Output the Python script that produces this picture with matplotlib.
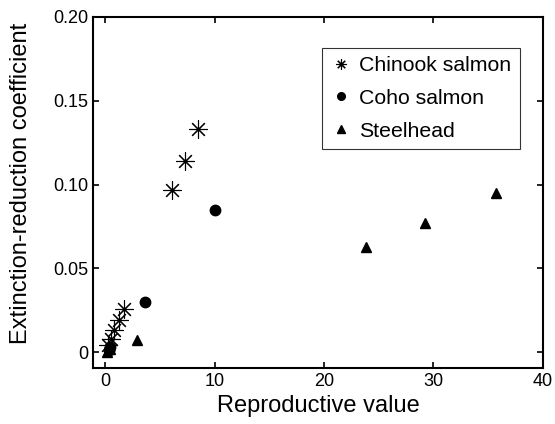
import numpy as np
import matplotlib.pyplot as plt

plt.rcParams['font.family'] = ['Liberation Sans', 'DejaVu Sans']

# data
chinook_x = [0.25, 0.5, 0.8, 1.25, 1.7, 6.1, 7.3, 8.5]
chinook_y = [0.004, 0.008, 0.013, 0.019, 0.026, 0.097, 0.114, 0.133]
coho_x = [0.3, 0.45, 3.6, 10.0]
coho_y = [0.001, 0.003, 0.030, 0.085]
steel_x = [0.2, 0.4, 2.9, 23.8, 29.2, 35.7]
steel_y = [0.0, 0.002, 0.007, 0.063, 0.077, 0.095]

fig = plt.figure(figsize=(5.55, 4.24), dpi=100)
ax = fig.add_axes([0.168, 0.132, 0.81, 0.828])

ax.plot(chinook_x, chinook_y, ls='none', marker=(8, 2, 0), ms=13, mec='black',
        mew=0.8, color='black', label='Chinook salmon')
ax.plot(coho_x, coho_y, ls='none', marker='o', ms=7.5, color='black', label='Coho salmon')
ax.plot(steel_x, steel_y, ls='none', marker='^', ms=7.5, color='black', label='Steelhead')

ax.set_xlim(-1.1, 40)
ax.set_ylim(-0.0095, 0.20)
ax.set_xticks([0, 10, 20, 30, 40])
ax.set_yticks([0, 0.05, 0.10, 0.15, 0.20])
ax.set_yticklabels(['0', '0.05', '0.10', '0.15', '0.20'])
ax.tick_params(direction='in', labelsize=13, length=4, width=1.2, top=True, right=True)
for s in ax.spines.values():
    s.set_linewidth(1.5)

ax.set_xlabel('Reproductive value', fontsize=17)
ax.set_ylabel('Extinction-reduction coefficient', fontsize=17)
ax.yaxis.set_label_coords(-0.137, 0.527)

leg = ax.legend(loc='upper left', bbox_to_anchor=(322 / 555, 1 - 47.5 / 424),
                bbox_transform=fig.transFigure, fontsize=15.3,
                frameon=True, fancybox=False, edgecolor='black', handlelength=0.95,
                handletextpad=0.4, borderpad=0.4, labelspacing=0.65, borderaxespad=0)
leg.get_frame().set_linewidth(0.8)
for h, ms in zip(leg.legend_handles, [7.5, 5.5, 5.5]):
    h.set_markersize(ms)

fig.savefig('out.png', dpi=100)
